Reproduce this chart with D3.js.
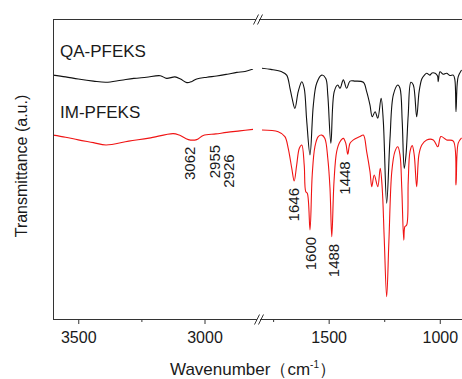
<!DOCTYPE html>
<html>
<head>
<meta charset="utf-8">
<script src="https://cdn.jsdelivr.net/npm/d3@7"></script>
<style>
    body { margin: 0; background: #fff; }
    text { font-family: "Liberation Sans", Arial, sans-serif; fill: #1a1a1a; }
</style>
</head>
<body>
<div id="chart"></div>
<script>
// wavenumber (cm-1) / transmittance (a.u.)
const qaLeftWave = [3600, 3550, 3500, 3440, 3390, 3330, 3280, 3230, 3175, 3150, 3117, 3095, 3070, 3050, 3031, 2990, 2952, 2910, 2872, 2840, 2808];
const qaLeftT    = [81.3, 80.7, 80.0, 79.3, 78.9, 79.6, 80.2, 80.6, 81.1, 80.2, 80.7, 80.0, 78.8, 79.2, 80.0, 80.6, 81.0, 81.6, 82.2, 82.5, 83.3];
const imLeftWave = [3600, 3550, 3500, 3440, 3390, 3300, 3220, 3124, 3100, 3064, 3031, 3005, 2955, 2912, 2860, 2808];
const imLeftT    = [61.3, 60.6, 59.7, 58.8, 58.0, 59.3, 60.3, 61.8, 61.3, 59.8, 59.8, 61.2, 61.7, 62.2, 62.7, 63.2];

const qaRightWave = [1800, 1760, 1711, 1689, 1674, 1665, 1652, 1637, 1621, 1610, 1599, 1584, 1569, 1554, 1531, 1513, 1504, 1490, 1475, 1459, 1449, 1434, 1419, 1404, 1381,
    1344, 1329, 1314, 1304, 1291, 1279, 1264, 1254, 1239, 1224, 1209, 1189, 1179, 1169, 1160, 1152, 1142, 1130, 1119, 1104, 1093, 1081, 1070, 1059, 1045, 1035, 1021,
    1010, 1007, 999, 985, 969, 955, 939, 932, 927, 922, 917, 902];
const qaRightT    = [83.6, 83.2, 82.4, 81.3, 76.9, 73.7, 70.2, 75.8, 79.1, 76.9, 66.3, 54.7, 71.3, 78.6, 81.3, 80.2, 74.7, 58.6, 75.8, 78.0, 76.9, 79.7, 76.9, 79.3, 79.3,
    78.9, 75.8, 71.3, 67.4, 69.1, 66.9, 73.6, 65.8, 38.6, 60.2, 74.7, 78.0, 76.9, 65.8, 50.2, 54.7, 68.0, 78.9, 78.0, 67.4, 75.8, 80.0, 81.2, 81.9, 81.3, 82.0, 81.9,
    81.0, 79.1, 82.4, 81.6, 81.9, 81.2, 81.3, 79.7, 69.1, 78.0, 80.8, 83.0];
const imRightWave = [1800, 1727, 1697, 1682, 1666, 1655, 1644, 1632, 1621, 1610, 1603, 1596, 1584, 1574, 1562, 1547, 1531, 1517, 1504, 1494, 1486, 1476, 1464, 1449,
    1434, 1423, 1414, 1404, 1389, 1359, 1344, 1329, 1314, 1306, 1295, 1279, 1268, 1259, 1250, 1239, 1229, 1216, 1202, 1189, 1179, 1171, 1162, 1157, 1149, 1142, 1134,
    1124, 1115, 1104, 1094, 1081, 1059, 1029, 1009, 995, 969, 939, 927, 917, 902];
const imRightT    = [63.0, 62.4, 60.8, 56.9, 50.2, 46.0, 51.3, 56.9, 58.0, 51.3, 42.4, 41.9, 29.7, 48.0, 57.4, 60.8, 61.3, 60.2, 53.6, 43.6, 27.4, 45.8, 55.8, 59.1,
    60.2, 58.6, 54.9, 58.6, 59.7, 60.8, 61.3, 55.8, 49.1, 44.1, 48.0, 44.1, 50.2, 43.6, 26.9, 7.4, 25.8, 49.1, 55.8, 57.4, 54.7, 43.6, 26.3, 30.8, 31.3, 45.8, 55.8,
    57.8, 54.7, 44.1, 54.7, 58.0, 59.7, 59.7, 57.4, 60.8, 59.7, 59.3, 44.7, 58.6, 60.4];

const seriesNames = ['QA-PFEKS', 'IM-PFEKS'];
const peakLabels  = ['3062', '2955', '2926', '1646', '1600', '1488', '1448'];
const peakWave    = [3057, 2958, 2902, 1659, 1581, 1479, 1427];

const leftTicks = [3500, 3000], leftMinor = [3250];
const rightTicks = [1500, 1000], rightMinor = [1750, 1250];

const config = {
    width: 462, height: 379,
    margin: {top: 19, left: 53, bottom: 60},
    breakLeft: 255, breakRight: 262
};

const svg = d3.select('#chart').append('svg')
    .attr('width', config.width)
    .attr('height', config.height);

const plotBottom = config.height - config.margin.bottom;

// two x scales, one each side of the axis break
const xLeft = d3.scaleLinear().domain([3600, 2800]).range([config.margin.left, config.breakLeft]);
const xRight = d3.scaleLinear().domain([1800, 900]).range([config.breakRight, config.width]);
const yScale = d3.scaleLinear().domain([0, 100]).range([plotBottom, config.margin.top]);

const makeLine = x => d3.line()
    .x(d => x(d[0]))
    .y(d => yScale(d[1]))
    .curve(d3.curveCatmullRom.alpha(0.5));

const zip = (a, b) => a.map((v, i) => [v, b[i]]);

const curves = [
    {x: xLeft, data: zip(qaLeftWave, qaLeftT), color: '#111'},
    {x: xRight, data: zip(qaRightWave, qaRightT), color: '#111'},
    {x: xLeft, data: zip(imLeftWave, imLeftT), color: '#f01414'},
    {x: xRight, data: zip(imRightWave, imRightT), color: '#f01414'}
];

svg.selectAll('path.spectrum')
    .data(curves)
    .join('path')
    .attr('class', 'spectrum')
    .attr('fill', 'none')
    .attr('stroke', d => d.color)
    .attr('stroke-width', 1.1)
    .attr('d', d => makeLine(d.x)(d.data));

// frame
const frame = svg.append('g').attr('stroke', '#333').attr('stroke-width', 1);
frame.append('line')
    .attr('x1', config.margin.left + 0.5).attr('x2', config.margin.left + 0.5)
    .attr('y1', config.margin.top).attr('y2', plotBottom);
frame.append('line')
    .attr('x1', config.margin.left).attr('x2', config.width)
    .attr('y1', config.margin.top + 0.5).attr('y2', config.margin.top + 0.5);

// axes
function addAxis(scale, major, minor) {
    const g = svg.append('g')
        .attr('transform', `translate(0,${plotBottom})`)
        .call(d3.axisBottom(scale).tickValues(major).tickSize(5).tickPadding(8).tickFormat(d3.format('d')));
    g.select('.domain').remove();
    g.selectAll('text').style('font-size', '16px').attr('fill', '#1a1a1a');
    g.selectAll('line').attr('stroke', '#333');

    const m = svg.append('g')
        .attr('transform', `translate(0,${plotBottom})`)
        .call(d3.axisBottom(scale).tickValues(minor).tickSize(3).tickFormat(''));
    m.select('.domain').remove();
    m.selectAll('line').attr('stroke', '#333');
}
addAxis(xLeft, leftTicks, leftMinor);
addAxis(xRight, rightTicks, rightMinor);

svg.append('line')
    .attr('stroke', '#333')
    .attr('x1', config.margin.left).attr('x2', config.width)
    .attr('y1', plotBottom + 0.5).attr('y2', plotBottom + 0.5);

// axis break marks
function breakMark(cx, cy) {
    const g = svg.append('g').attr('transform', `translate(${cx},${cy})`);
    g.append('polygon')
        .attr('points', '-4,5 0,-5 3,-5 -1,5')
        .attr('fill', '#fff');
    g.selectAll('line')
        .data([-4.5, -0.5])
        .join('line')
        .attr('x1', d => d).attr('y1', 5)
        .attr('x2', d => d + 5).attr('y2', -5)
        .attr('stroke', '#333')
        .attr('stroke-width', 1);
}
breakMark(258, config.margin.top + 0.5);
breakMark(259, plotBottom + 0.5);

// series names
svg.selectAll('text.series')
    .data(seriesNames)
    .join('text')
    .attr('class', 'series')
    .attr('x', 60)
    .attr('y', (d, i) => i === 0 ? 57 : 118)
    .style('font-size', '17px')
    .text(d => d);

// peak annotations, placed just under the red curve
const imAll = [
    ...zip(imLeftWave, imLeftT).map(d => ({x: xLeft(d[0]), y: yScale(d[1])})),
    ...zip(imRightWave, imRightT).map(d => ({x: xRight(d[0]), y: yScale(d[1])}))
];
const extraGap = {'2955': 4, '2926': 15};

svg.selectAll('text.peak')
    .data(peakLabels)
    .join('text')
    .attr('class', 'peak')
    .each(function(d, i) {
        const w = peakWave[i];
        const px = w > 2000 ? xLeft(w) : xRight(w);
        const near = imAll.filter(p => Math.abs(p.x - px) < 3);
        const curveY = d3.max(near, p => p.y);
        const top = curveY + 7 + (extraGap[d] || 0);
        d3.select(this)
            .attr('transform', `translate(${px},${top}) rotate(-90)`)
            .attr('dy', '0.35em')
            .attr('text-anchor', 'end')
            .style('font-size', '15px')
            .text(d);
    });

// axis titles
const xTitle = svg.append('text')
    .attr('x', 253)
    .attr('y', 375)
    .attr('text-anchor', 'middle')
    .style('font-size', '17px');
xTitle.append('tspan').text('Wavenumber（cm');
xTitle.append('tspan').attr('dy', -7).style('font-size', '10px').text('-1');
xTitle.append('tspan').attr('dy', 7).text('）');

svg.append('text')
    .attr('transform', 'translate(27,166) rotate(-90)')
    .attr('text-anchor', 'middle')
    .style('font-size', '16px')
    .text('Transmittance (a.u.)');
</script>
</body>
</html>
